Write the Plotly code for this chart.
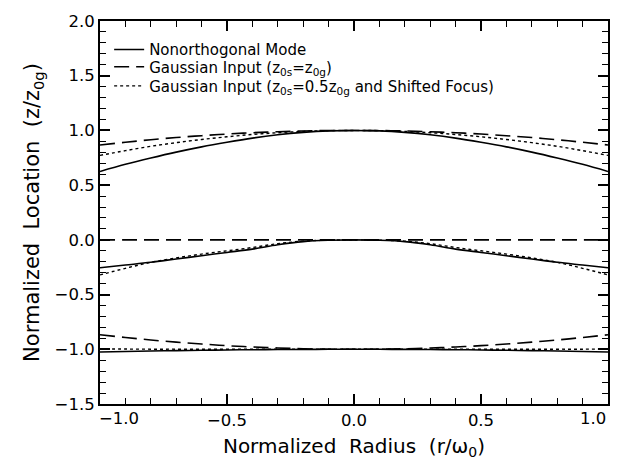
import plotly.graph_objects as go

# Normalized radius samples
radius = [-1.0, -0.9, -0.8, -0.7, -0.6, -0.5, -0.4, -0.3, -0.2, -0.1, 0.0,
          0.1, 0.2, 0.3, 0.4, 0.5, 0.6, 0.7, 0.8, 0.9, 1.0]

# Nonorthogonal mode (solid)
mode_top = [0.625, 0.69, 0.748, 0.802, 0.85, 0.892, 0.93, 0.96, 0.982, 0.996, 1.0,
            0.996, 0.982, 0.96, 0.93, 0.892, 0.85, 0.802, 0.748, 0.69, 0.625]
mode_mid = [-0.255, -0.23, -0.205, -0.175, -0.145, -0.115, -0.085, -0.045, -0.016, -0.004, 0.0,
            -0.004, -0.016, -0.045, -0.085, -0.115, -0.145, -0.175, -0.205, -0.23, -0.255]
mode_bot = [-1.025, -1.02, -1.016, -1.012, -1.009, -1.006, -1.004, -1.002, -1.001, -1.0, -1.0,
            -1.0, -1.001, -1.002, -1.004, -1.006, -1.009, -1.012, -1.016, -1.02, -1.025]

# Gaussian input z0s = z0g (dashed)
gauss_top = [0.867, 0.892, 0.915, 0.935, 0.952, 0.967, 0.979, 0.988, 0.995, 0.999, 1.0,
             0.999, 0.995, 0.988, 0.979, 0.967, 0.952, 0.935, 0.915, 0.892, 0.867]
gauss_mid = [0.0] * 21
gauss_bot = [-0.867, -0.892, -0.915, -0.935, -0.952, -0.967, -0.979, -0.988, -0.995, -0.999, -1.0,
             -0.999, -0.995, -0.988, -0.979, -0.967, -0.952, -0.935, -0.915, -0.892, -0.867]

# Gaussian input z0s = 0.5 z0g and shifted focus (dotted)
shift_top = [0.772, 0.815, 0.855, 0.888, 0.917, 0.942, 0.963, 0.979, 0.991, 0.998, 1.0,
             0.998, 0.991, 0.979, 0.963, 0.942, 0.917, 0.888, 0.855, 0.815, 0.772]
shift_mid = [-0.32, -0.26, -0.205, -0.165, -0.13, -0.10, -0.07, -0.035, -0.012, -0.003, 0.0,
             -0.003, -0.012, -0.035, -0.07, -0.10, -0.13, -0.165, -0.205, -0.26, -0.32]
shift_bot = [-0.998, -0.998, -0.999, -0.999, -1.0, -1.0, -1.0, -1.0, -1.0, -1.0, -1.0,
             -1.0, -1.0, -1.0, -1.0, -1.0, -1.0, -1.0, -0.999, -0.999, -0.998]

series_names = ["Nonorthogonal Mode",
                "Gaussian Input (z<sub>0s</sub>=z<sub>0g</sub>)",
                "Gaussian Input (z<sub>0s</sub>=0.5z<sub>0g</sub> and Shifted Focus)"]

x_ticks = [-1.0, -0.5, 0.0, 0.5, 1.0]
x_tick_labels = ["\u22121.0", "\u22120.5", "0.0", "0.5", "1.0"]
y_ticks = [-1.5, -1.0, -0.5, 0.0, 0.5, 1.0, 1.5, 2.0]
y_tick_labels = ["\u22121.5", "\u22121.0", "\u22120.5", "0.0", "0.5", "1.0", "1.5", "2.0"]

FONT = "DejaVu Sans"
TICK_SIZE = 16.5
fig = go.Figure()

groups = [
    (series_names[0], "solid", 1.6, [mode_top, mode_mid, mode_bot], "legend"),
    (series_names[1], "15px,7px", 1.6, [gauss_top, gauss_mid, gauss_bot], "legend2"),
    (series_names[2], "dot", 1.4, [shift_top, shift_mid, shift_bot], "legend3"),
]
for name, dash, w, curves, leg in groups:
    for i, ys in enumerate(curves):
        fig.add_trace(go.Scatter(
            x=radius, y=ys, mode="lines", name=name, legendgroup=name, legend=leg,
            showlegend=(i == 0), line=dict(color="black", width=w, dash=dash),
            line_shape="spline"))

# end tick labels placed inward, as in the original
fig.add_annotation(x=x_ticks[0], y=0, xref="x", yref="paper", text=x_tick_labels[0],
                   showarrow=False, xanchor="center", yanchor="top", xshift=19, yshift=-3,
                   font=dict(family=FONT, size=TICK_SIZE, color="black"))
fig.add_annotation(x=x_ticks[-1], y=0, xref="x", yref="paper", text=x_tick_labels[-1],
                   showarrow=False, xanchor="center", yanchor="top", xshift=-15, yshift=-3,
                   font=dict(family=FONT, size=TICK_SIZE, color="black"))

axis_common = dict(showline=True, linewidth=2, linecolor="black", mirror="ticks",
                   ticks="inside", ticklen=10, tickwidth=1.5, tickcolor="black",
                   showgrid=False, zeroline=False,
                   tickfont=dict(family=FONT, size=TICK_SIZE, color="black"),
                   minor=dict(dtick=0.1, ticks="inside", ticklen=6, tickwidth=1.2,
                              tickcolor="black", showgrid=False))

fig.update_xaxes(range=[-1.0, 1.0], tickvals=x_ticks[1:-1], ticktext=x_tick_labels[1:-1],
                 title=dict(text="Normalized  Radius  (r/\u03c9<sub>0</sub>)",
                            font=dict(family=FONT, size=20, color="black"), standoff=10),
                 **axis_common)
fig.update_yaxes(range=[-1.5, 2.0], tickvals=y_ticks, ticktext=y_tick_labels,
                 title=dict(text="Normalized  Location  (z/z<sub>0g</sub>)",
                            font=dict(family=FONT, size=21, color="black"), standoff=9),
                 **axis_common)

leg_common = dict(x=0.018, xanchor="left", yanchor="middle",
                  bgcolor="rgba(0,0,0,0)", borderwidth=0,
                  font=dict(family=FONT, size=15, color="black"), itemwidth=30)

fig.update_layout(
    width=630, height=466,
    margin=dict(l=100, r=22, t=12, b=58),
    plot_bgcolor="white", paper_bgcolor="white",
    font=dict(family=FONT, size=16, color="black"),
    legend=dict(y=0.925, **leg_common),
    legend2=dict(y=0.880, **leg_common),
    legend3=dict(y=0.830, **leg_common),
    showlegend=True,
)

fig.write_html("out.html")
